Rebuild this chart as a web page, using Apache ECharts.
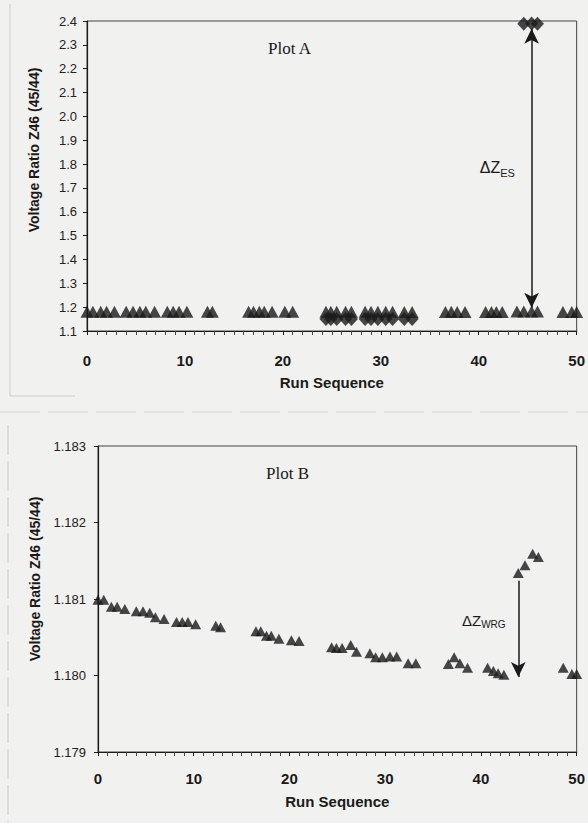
<!DOCTYPE html>
<html>
<head>
<meta charset="utf-8">
<script src="https://cdn.jsdelivr.net/npm/echarts@6/dist/echarts.min.js"></script>
<style>
html,body{margin:0;padding:0;background:#f1f1ef;}
#c{width:588px;height:823px;}
</style>
</head>
<body>
<div id="c"></div>
<script>
// Run sequence positions (shared by both plots)
const runs = [0.0,0.6,1.4,2.0,2.8, 4.0,4.7,5.4,6.0,6.9, 8.2,8.8,9.4,10.2, 12.3,12.8,
  16.5,17.0,17.6,18.1,18.9, 20.2,21.0, 24.4,24.9,25.5,26.4,27.0, 28.4,29.0,29.7,30.5,31.2,
  32.4,33.2, 36.6,37.2,37.8,38.6, 40.7,41.3,41.8,42.4, 43.9,44.6,45.4,46.0, 48.6,49.5,50.0];
// Voltage ratio Z46 (45/44), WRG measurements (triangles)
const valuesWRG = [1.18099,1.18099,1.18090,1.18090,1.18087, 1.18084,1.18084,1.18082,1.18076,1.18074,
  1.18070,1.18070,1.18070,1.18067, 1.18065,1.18063,
  1.18058,1.18058,1.18052,1.18052,1.18048, 1.18046,1.18045, 1.18037,1.18036,1.18036,1.18040,1.18031,
  1.18029,1.18024,1.18024,1.18025,1.18025, 1.18016,1.18016, 1.18015,1.18024,1.18016,1.18010,
  1.18010,1.18006,1.18003,1.18001, 1.18134,1.18144,1.18159,1.18155, 1.18010,1.18002,1.18002];
// ES measurements shown as diamonds in Plot A
const runsES = [24.4,24.9,25.5,26.4,27.0,28.4,29.0,29.7,30.5,31.2,32.4,33.2, 44.6,45.4,46.0];
const valuesES = [1.150,1.150,1.150,1.150,1.150,1.150,1.150,1.150,1.150,1.150,1.150,1.150, 2.388,2.390,2.388];
// Tick settings
const yTicksA = {min:1.1, max:2.4, interval:0.1};
const yTicksB = {min:1.179, max:1.183, interval:0.001};
const xTicks = {min:0, max:50, interval:10};
// Annotation anchors
const arrowA = {run:45.4, from:1.197, to:2.368};
const arrowB = {run:43.9, from:1.18124, to:1.17998};
const labelA = {run:41.9, value:1.785};
const labelB = {run:40.3, value:1.180725};

const chart = echarts.init(document.getElementById('c'), null, {renderer:'svg'});
const ink = '#1a1a1a';
const sans = 'Liberation Sans, Arial, sans-serif';

function xAxis(gi, margin, gap){
  return {
    gridIndex: gi, type:'value', min:xTicks.min, max:xTicks.max, interval:xTicks.interval,
    name:'Run Sequence', nameLocation:'middle', nameGap:gap,
    nameTextStyle:{fontFamily:sans, fontWeight:'bold', fontSize:15, color:ink},
    axisLine:{show:true, onZero:false, lineStyle:{color:ink, width:1.2}},
    axisTick:{show:true, inside:false, length:4, lineStyle:{color:ink}},
    minorTick:{show:true, splitNumber:10, length:4, lineStyle:{color:'#444'}},
    splitLine:{show:false},
    axisLabel:{margin:margin, fontFamily:sans, fontWeight:'bold', fontSize:15, color:ink}
  };
}
function yAxis(gi, t, dec, margin, gap, pad){
  return {
    gridIndex: gi, type:'value', min:t.min, max:t.max, interval:t.interval,
    name:'Voltage Ratio Z46 (45/44)', nameLocation:'middle', nameGap:gap,
    nameTextStyle:{fontFamily:sans, fontWeight:'bold', fontSize:14, color:ink, padding:pad},
    axisLine:{show:true, onZero:false, lineStyle:{color:ink, width:1.2}},
    axisTick:{show:true, inside:false, length:4, lineStyle:{color:ink}},
    splitLine:{show:false},
    axisLabel:{margin:margin, fontFamily:sans, fontSize:13, color:'#222',
      formatter:function(v){return v.toFixed(dec);}}
  };
}
function pairs(xs, ys){ return xs.map(function(x,i){return [x, ys[i]];}); }

const option = {
  backgroundColor:'#f1f1ef',
  animation:false,
  title:[
    {text:'Plot A', left:263, top:35, textStyle:{fontFamily:'Liberation Serif, Times New Roman, serif', fontWeight:'normal', fontSize:17, color:ink}},
    {text:'Plot B', left:261, top:460, textStyle:{fontFamily:'Liberation Serif, Times New Roman, serif', fontWeight:'normal', fontSize:17, color:ink}}
  ],
  grid:[
    {left:87, top:21, width:492, height:310, show:true, borderColor:'#444', borderWidth:1, backgroundColor:'transparent'},
    {left:98, top:446, width:480, height:306, show:true, borderColor:'#444', borderWidth:1, backgroundColor:'transparent'}
  ],
  xAxis:[ xAxis(0, 22, 44), xAxis(1, 19, 42) ],
  yAxis:[ yAxis(0, yTicksA, 1, 10, 46, [0,0,0,52]), yAxis(1, yTicksB, 3, 12, 56, [0,0,0,40]) ],
  graphic:[
    {type:'line', shape:{x1:10,y1:4,x2:10,y2:396}, style:{stroke:'#cbcbc9', lineWidth:1}},
    {type:'line', shape:{x1:10,y1:396,x2:75,y2:396}, style:{stroke:'#cbcbc9', lineWidth:1}},
    {type:'line', shape:{x1:0,y1:412,x2:588,y2:412}, style:{stroke:'#d4d4d2', lineWidth:1, lineDash:[40,8]}},
    {type:'line', shape:{x1:8,y1:425,x2:8,y2:823}, style:{stroke:'#cbcbc9', lineWidth:1, lineDash:[30,6]}}
  ],
  series:[
    {
      type:'scatter', xAxisIndex:0, yAxisIndex:0, symbol:'triangle', symbolSize:[13,12],
      itemStyle:{color:ink}, data:pairs(runs, valuesWRG), z:3,
      markLine:{
        silent:true, symbol:['arrow','arrow'], symbolSize:[11,15],
        lineStyle:{color:ink, width:1.5, type:'solid'}, label:{show:false},
        data:[[{coord:[arrowA.run, arrowA.from]},{coord:[arrowA.run, arrowA.to]}]]
      },
      markPoint:{
        silent:true, symbol:'circle', symbolSize:1, itemStyle:{color:'rgba(0,0,0,0)'},
        label:{show:true, formatter:'{a|ΔZ}{b|ES}', color:ink,
          rich:{a:{fontFamily:sans, fontSize:16, color:ink}, b:{fontFamily:sans, fontSize:11, color:ink, padding:[10,0,0,0]}}},
        data:[{coord:[labelA.run, labelA.value]}]
      }
    },
    {
      type:'scatter', xAxisIndex:0, yAxisIndex:0, symbol:'diamond', symbolSize:[13,14],
      itemStyle:{color:ink}, data:pairs(runsES, valuesES), z:3
    },
    {
      type:'scatter', xAxisIndex:1, yAxisIndex:1, symbol:'triangle', symbolSize:[11,10],
      itemStyle:{color:ink}, data:pairs(runs, valuesWRG), z:3,
      markLine:{
        silent:true, symbol:['none','arrow'], symbolSize:[11,15],
        lineStyle:{color:ink, width:1.5, type:'solid'}, label:{show:false},
        data:[[{coord:[arrowB.run, arrowB.from]},{coord:[arrowB.run, arrowB.to]}]]
      },
      markPoint:{
        silent:true, symbol:'circle', symbolSize:1, itemStyle:{color:'rgba(0,0,0,0)'},
        label:{show:true, formatter:'{a|ΔZ}{b|WRG}', color:ink,
          rich:{a:{fontFamily:sans, fontSize:15, color:ink}, b:{fontFamily:sans, fontSize:10, color:ink, padding:[9,0,0,0]}}},
        data:[{coord:[labelB.run, labelB.value]}]
      }
    }
  ]
};
chart.setOption(option);
</script>
</body>
</html>
